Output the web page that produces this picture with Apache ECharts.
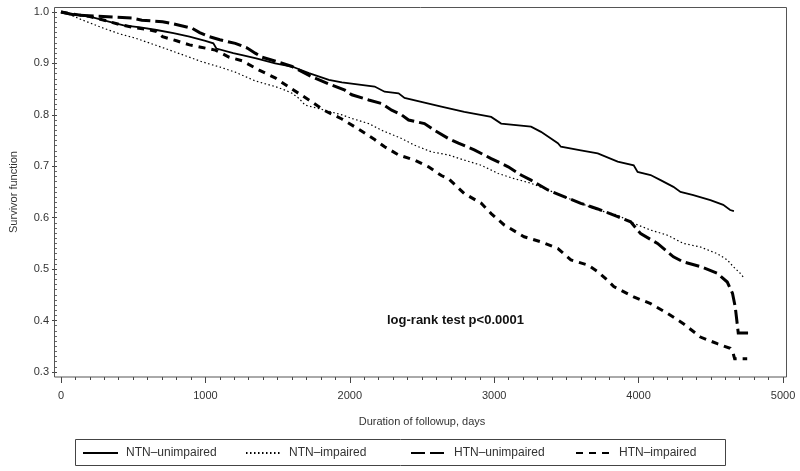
<!DOCTYPE html>
<html>
<head>
<meta charset="utf-8">
<script src="https://cdn.jsdelivr.net/npm/echarts@6/dist/echarts.min.js"></script>
<style>html,body{margin:0;padding:0;background:#fff}#c{width:800px;height:471px}</style>
</head>
<body>
<div id="c"></div>
<script>
// ---- data (days, survivor function) ----
const seriesNames = ['NTN\u2013unimpaired', 'NTN\u2013impaired', 'HTN\u2013unimpaired', 'HTN\u2013impaired'];
const xTicks = [0, 1000, 2000, 3000, 4000, 5000];
const yTicks = [0.3, 0.4, 0.5, 0.6, 0.7, 0.8, 0.9, 1.0];

const ntnUnimpDays = [0,60,200,338,434,550,662,779,890,1000,1055,1076,1193,1255,1352,1483,1600,1717,1855,1945,2172,2241,2338,2379,2517,2634,2793,2979,3048,3255,3324,3441,3462,3600,3717,3855,3966,3993,4083,4152,4241,4290,4379,4497,4586,4634,4660];
const ntnUnimpSurv = [1.0,0.997,0.991,0.981,0.974,0.970,0.965,0.959,0.952,0.944,0.939,0.929,0.920,0.916,0.910,0.900,0.894,0.881,0.868,0.863,0.855,0.845,0.842,0.833,0.824,0.816,0.806,0.796,0.783,0.777,0.767,0.745,0.738,0.731,0.725,0.709,0.702,0.689,0.683,0.673,0.660,0.650,0.644,0.634,0.625,0.615,0.613];

const ntnImpDays = [0,60,152,290,400,517,640,752,870,979,1100,1207,1345,1483,1552,1600,1648,1690,1828,1945,2014,2131,2221,2359,2448,2566,2683,2793,2910,3028,3138,3255,3372,3483,3600,3717,3855,3966,4083,4200,4310,4428,4545,4614,4655,4700,4724];
const ntnImpSurv = [1.0,0.995,0.984,0.969,0.958,0.949,0.937,0.926,0.914,0.903,0.893,0.883,0.866,0.855,0.848,0.842,0.832,0.819,0.809,0.800,0.793,0.783,0.770,0.754,0.741,0.728,0.722,0.712,0.702,0.686,0.676,0.667,0.654,0.641,0.628,0.615,0.605,0.589,0.576,0.566,0.550,0.543,0.530,0.518,0.505,0.493,0.485];

const htnUnimpDays = [0,100,497,560,703,760,870,910,960,1028,1100,1207,1290,1345,1393,1500,1600,1738,1855,1966,2014,2131,2221,2290,2359,2407,2517,2586,2683,2752,2862,2979,3097,3186,3255,3372,3483,3600,3717,3855,3945,4014,4131,4241,4310,4428,4545,4614,4650,4669,4690,4770];
const htnUnimpSurv = [1.0,0.994,0.988,0.984,0.981,0.978,0.971,0.968,0.960,0.952,0.946,0.939,0.930,0.920,0.912,0.903,0.894,0.874,0.860,0.848,0.839,0.829,0.822,0.809,0.800,0.790,0.783,0.770,0.754,0.745,0.732,0.715,0.699,0.683,0.673,0.654,0.641,0.628,0.617,0.602,0.592,0.569,0.550,0.524,0.514,0.505,0.492,0.475,0.453,0.427,0.376,0.376];

const htnImpDays = [0,60,200,300,400,500,600,662,703,800,890,960,1069,1166,1255,1372,1483,1600,1717,1828,1945,2062,2172,2241,2338,2448,2545,2634,2683,2793,2910,2979,3069,3207,3324,3441,3531,3648,3717,3786,3828,3966,4083,4200,4310,4428,4545,4634,4655,4665,4752];
const htnImpSurv = [1.0,0.997,0.991,0.984,0.976,0.970,0.966,0.962,0.952,0.944,0.936,0.932,0.926,0.912,0.905,0.887,0.872,0.850,0.829,0.808,0.792,0.772,0.752,0.738,0.722,0.712,0.699,0.682,0.676,0.647,0.628,0.608,0.586,0.563,0.553,0.540,0.518,0.508,0.495,0.478,0.466,0.446,0.433,0.414,0.394,0.368,0.355,0.346,0.336,0.326,0.326];

const annotationText = 'log-rank test p<0.0001';

// ---- build ----
function pairs(d, s) { return d.map((v, i) => [v, s[i]]); }
const FONT = '"Liberation Sans", Arial, sans-serif';
const styles = [
  { width: 1.8, type: 'solid' },
  { width: 1.2, type: [1.5, 2.5] },
  { width: 3, type: [14, 5] },
  { width: 3, type: [7, 6] }
];
const datasets = [
  pairs(ntnUnimpDays, ntnUnimpSurv),
  pairs(ntnImpDays, ntnImpSurv),
  pairs(htnUnimpDays, htnUnimpSurv),
  pairs(htnImpDays, htnImpSurv)
];

// frame geometry: 0 day at x=58, 5000 at x=783; 1.0 at y=12, 0.3 at y=372
const pxPerDay = 725 / 5000, pxPerUnit = 360 / 0.7;
const xMin = -4 / pxPerDay, xMax = 5000 + 4 / pxPerDay;
const yMin = 0.3 - 5 / pxPerUnit, yMax = 1.0 + 5 / pxPerUnit;
const xMinor = [], yMinor = [];
for (let k = 1; k < 50; k++) if (k % 10) xMinor.push(k * 100);
for (let k = 31; k < 100; k++) if (k % 10) yMinor.push(k / 100);

const tickLine = { color: '#444', width: 1 };
const labelStyle = { fontFamily: FONT, fontSize: 11, color: '#333' };
const legendLefts = [82, 245, 410, 575];

const chart = echarts.init(document.getElementById('c'), null, { renderer: 'canvas' });
chart.setOption({
  animation: false,
  backgroundColor: '#fff',
  grid: { left: 54, right: 13, top: 7, bottom: 94 },
  xAxis: [{
    type: 'value', min: xMin, max: xMax,
    name: 'Duration of followup, days', nameLocation: 'middle', nameGap: 39,
    nameTextStyle: labelStyle,
    axisLine: { show: false, onZero: false },
    axisTick: { show: true, length: 6, lineStyle: tickLine, customValues: xTicks },
    axisLabel: { margin: 13, ...labelStyle, customValues: xTicks, formatter: v => String(Math.round(v)) },
    splitLine: { show: false }
  }, {
    type: 'value', min: xMin, max: xMax, position: 'bottom',
    axisLine: { show: false, onZero: false },
    axisTick: { show: true, length: 3, lineStyle: tickLine, customValues: xMinor },
    axisLabel: { show: false },
    splitLine: { show: false }
  }],
  yAxis: [{
    type: 'value', min: yMin, max: yMax,
    name: 'Survivor function', nameLocation: 'middle', nameGap: 38,
    nameTextStyle: labelStyle,
    axisLine: { show: false, onZero: false },
    axisTick: { show: true, length: 5, lineStyle: tickLine, customValues: yTicks },
    axisLabel: { margin: 8, ...labelStyle, customValues: yTicks, formatter: v => v.toFixed(1) },
    splitLine: { show: false }
  }, {
    type: 'value', min: yMin, max: yMax, position: 'left',
    axisLine: { show: false, onZero: false },
    axisTick: { show: true, length: 2, lineStyle: { color: '#666', width: 1 }, customValues: yMinor },
    axisLabel: { show: false },
    splitLine: { show: false }
  }],
  legend: seriesNames.map((name, i) => ({
    left: legendLefts[i], top: 447,
    orient: 'horizontal',
    padding: 0,
    itemWidth: 35, itemHeight: 11, itemGap: 0,
    itemStyle: { opacity: 0, borderWidth: 0 },
    textStyle: { fontFamily: FONT, fontSize: 12, color: '#333', padding: [0, 0, 0, 3] },
    data: [name],
    selectedMode: false
  })),
  title: {
    text: annotationText, left: 387, top: 314,
    textStyle: { fontFamily: FONT, fontSize: 13, fontWeight: 'bold', color: '#111' },
    padding: 0
  },
  graphic: [{
    type: 'rect', silent: true, z: 100,
    shape: { x: 54.5, y: 7.5, width: 732, height: 369.5 },
    style: { fill: 'none', stroke: '#555', lineWidth: 1 }
  }, {
    type: 'rect', silent: true,
    shape: { x: 75.5, y: 439.5, width: 650, height: 26 },
    style: { fill: 'none', stroke: '#444', lineWidth: 1 }
  }],
  series: datasets.map((d, i) => ({
    name: seriesNames[i],
    type: 'line',
    xAxisIndex: 0, yAxisIndex: 0,
    data: d,
    symbol: 'none',
    clip: false,
    color: '#000',
    lineStyle: { color: '#000', width: styles[i].width, type: styles[i].type, cap: 'butt', join: 'miter' },
    emphasis: { disabled: true }
  }))
});
</script>
</body>
</html>
